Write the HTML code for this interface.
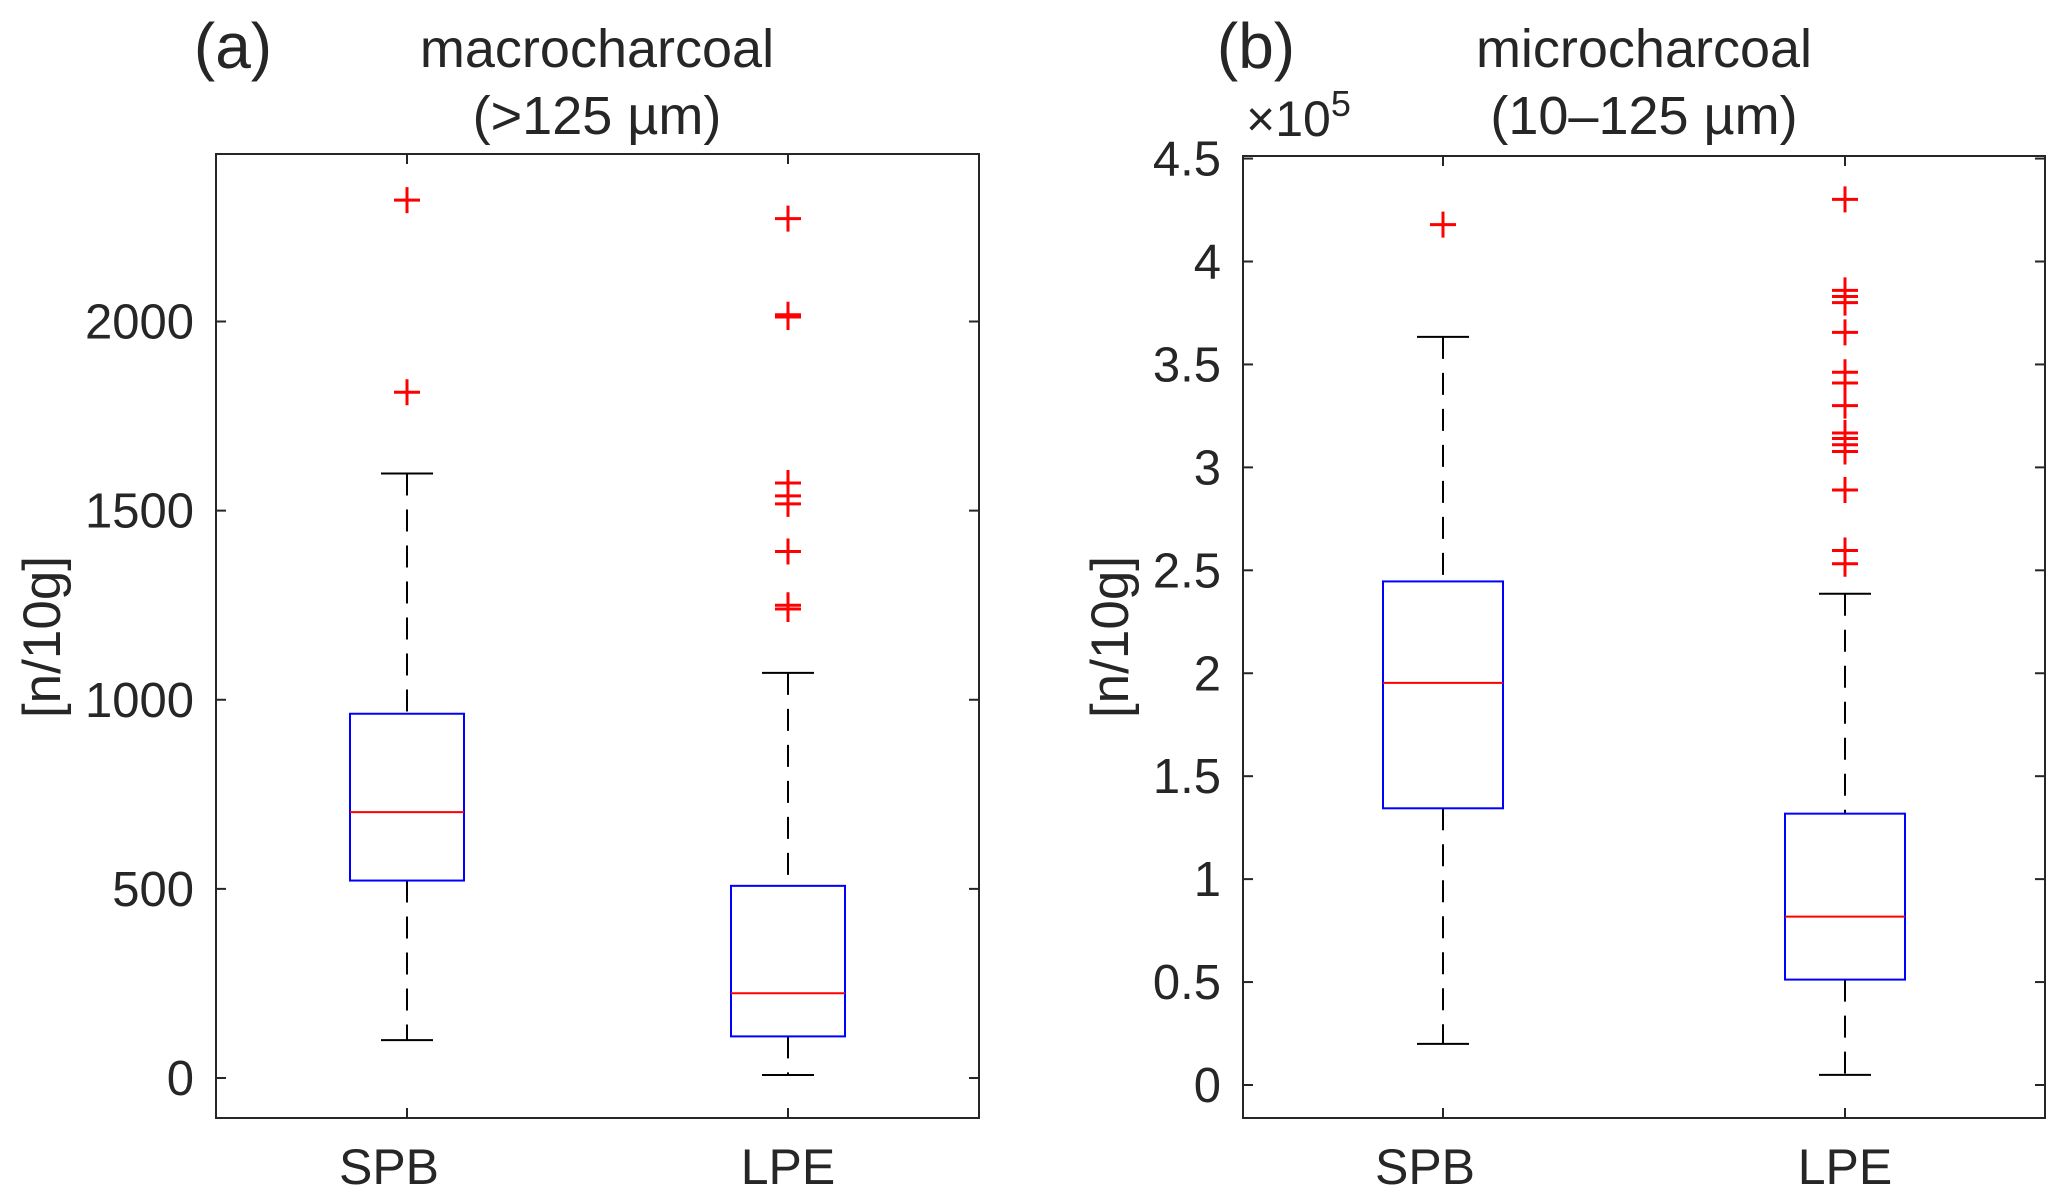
<!DOCTYPE html>
<html><head><meta charset="utf-8"><style>
html,body{margin:0;padding:0;background:#fff}
svg{display:block}
text{font-family:"Liberation Sans",sans-serif;fill:#262626}
</style></head><body>
<svg id="chart" width="2067" height="1202" viewBox="0 0 2067 1202" xmlns="http://www.w3.org/2000/svg"></svg>
<script>
// ----- data -----
const categories = ["SPB", "LPE"];
// panel a: macrocharcoal
const macroLow = [100, 8];
const macroQ1 = [522, 110];
const macroMedian = [703, 224];
const macroQ3 = [963, 508];
const macroHigh = [1598, 1071];
const macroOutliersSPB = [1813, 2321];
const macroOutliersLPE = [2272, 2018, 2012, 1573, 1539, 1518, 1392, 1250, 1240];
const macroTicks = [0, 500, 1000, 1500, 2000];
// panel b: microcharcoal (x10^5)
const microLow = [0.20, 0.049];
const microQ1 = [1.344, 0.512];
const microMedian = [1.953, 0.818];
const microQ3 = [2.446, 1.318];
const microHigh = [3.634, 2.386];
const microOutliersSPB = [4.179];
const microOutliersLPE = [4.302, 3.86, 3.83, 3.80, 3.656, 3.462, 3.41, 3.30, 3.167, 3.14, 3.11, 3.077, 2.89, 2.596, 2.532];
const microTicks = [0, 0.5, 1, 1.5, 2, 2.5, 3, 3.5, 4, 4.5];
const microTickLabels = ["0", "0.5", "1", "1.5", "2", "2.5", "3", "3.5", "4", "4.5"];

const NS = "http://www.w3.org/2000/svg";
const svg = document.getElementById("chart");
function mk(tag, attrs, parent, txt) {
  const e = document.createElementNS(NS, tag);
  for (const k in attrs) e.setAttribute(k, attrs[k]);
  if (txt !== undefined) e.textContent = txt;
  (parent || svg).appendChild(e);
  return e;
}
const labelShift = [-18, 0];

function panel(cfg) {
  const g = mk("g", {});
  
  
  const y = v => cfg.y0 + (v - cfg.v0) * (cfg.y1 - cfg.y0) / (cfg.v1 - cfg.v0);
  const xs = [cfg.cx0, cfg.cx1];
  const box = mk("rect", {x: cfg.L, y: cfg.T, width: cfg.R - cfg.L, height: cfg.B - cfg.T, fill: "none", stroke: "#262626", "stroke-width": 2}, g);
  
  
  cfg.ticks.forEach((t, i) => {
    const yy = y(t);
    mk("line", {x1: cfg.L, x2: cfg.L + 10, y1: yy, y2: yy, stroke: "#262626", "stroke-width": 2}, g);
    mk("line", {x1: cfg.R, x2: cfg.R - 10, y1: yy, y2: yy, stroke: "#262626", "stroke-width": 2}, g);
    const lb = mk("text", {x: cfg.L - 22, y: yy + 17, "text-anchor": "end", "font-size": 49}, g, cfg.tickLabels[i]);
    
    
  });
  categories.forEach((c, i) => {
    const x = xs[i];
    mk("line", {x1: x, x2: x, y1: cfg.B, y2: cfg.B - 10, stroke: "#262626", "stroke-width": 2}, g);
    mk("line", {x1: x, x2: x, y1: cfg.T, y2: cfg.T + 10, stroke: "#262626", "stroke-width": 2}, g);
    const lb = mk("text", {x: x + labelShift[i], y: 1184, "text-anchor": "middle", "font-size": 50}, g, c);
    
    
  });
  categories.forEach((c, i) => {
    const x = xs[i], hw = cfg.hw, cw = 26;
    const bg = mk("g", {}, g);
    
    
    mk("line", {x1: x, x2: x, y1: y(cfg.high[i]), y2: y(cfg.q3[i]), stroke: "#000", "stroke-width": 2, "stroke-dasharray": "22 14"}, bg);
    mk("line", {x1: x, x2: x, y1: y(cfg.q1[i]), y2: y(cfg.low[i]), stroke: "#000", "stroke-width": 2, "stroke-dasharray": "22 14"}, bg);
    mk("line", {x1: x - cw, x2: x + cw, y1: y(cfg.high[i]), y2: y(cfg.high[i]), stroke: "#000", "stroke-width": 2}, bg);
    mk("line", {x1: x - cw, x2: x + cw, y1: y(cfg.low[i]), y2: y(cfg.low[i]), stroke: "#000", "stroke-width": 2}, bg);
    mk("rect", {x: x - hw, y: y(cfg.q3[i]), width: 2 * hw, height: y(cfg.q1[i]) - y(cfg.q3[i]), fill: "none", stroke: "#0000ff", "stroke-width": 2}, bg);
    mk("line", {x1: x - hw, x2: x + hw, y1: y(cfg.med[i]), y2: y(cfg.med[i]), stroke: "#ff0000", "stroke-width": 2}, bg);
    cfg.out[i].forEach(v => {
      const yy = y(v);
      const o = mk("path", {d: `M${x - 13},${yy}H${x + 13}M${x},${yy - 13}V${yy + 13}`, stroke: "#ff0000", "stroke-width": 3, fill: "none"}, bg);
      
      
    });
  });
  const t1 = mk("text", {x: cfg.tx, y: 67, "text-anchor": "middle", "font-size": 54}, g, cfg.title1);
  
  
  const t2 = mk("text", {x: cfg.tx, y: 134, "text-anchor": "middle", "font-size": 54}, g, cfg.title2);
  
  
  const pl = mk("text", {x: cfg.px, y: 68, "text-anchor": "middle", "font-size": 64}, g, cfg.plabel);
  
  
  const yl = mk("text", {x: 0, y: 0, "text-anchor": "middle", "font-size": 53, transform: `translate(${cfg.ylx},637) rotate(-90)`}, g, "[n/10g]");
  
  
  return g;
}

panel({name: "panel-a-macrocharcoal", L: 216, R: 979, T: 154, B: 1118, cx0: 407, cx1: 788, hw: 57,
  v0: 0, y0: 1078, v1: 2000, y1: 321.5, ticks: macroTicks, tickLabels: macroTicks.map(String),
  low: macroLow, q1: macroQ1, med: macroMedian, q3: macroQ3, high: macroHigh, out: [macroOutliersSPB, macroOutliersLPE],
  title1: "macrocharcoal", title2: "(>125 µm)", tx: 597, px: 233, plabel: "(a)", ylx: 60});

panel({name: "panel-b-microcharcoal", L: 1243, R: 2045, T: 156, B: 1118, cx0: 1443, cx1: 1845, hw: 60,
  v0: 0, y0: 1085, v1: 4, y1: 261.5, ticks: microTicks, tickLabels: microTickLabels,
  low: microLow, q1: microQ1, med: microMedian, q3: microQ3, high: microHigh, out: [microOutliersSPB, microOutliersLPE],
  title1: "microcharcoal", title2: "(10–125 µm)", tx: 1644, px: 1256, plabel: "(b)", ylx: 1128});

const ex = mk("text", {x: 1246, y: 136, "font-size": 50}, svg);


mk("tspan", {}, ex, "×10");
mk("tspan", {dy: -20, "font-size": 36}, ex, "5");
</script>
</body></html>
